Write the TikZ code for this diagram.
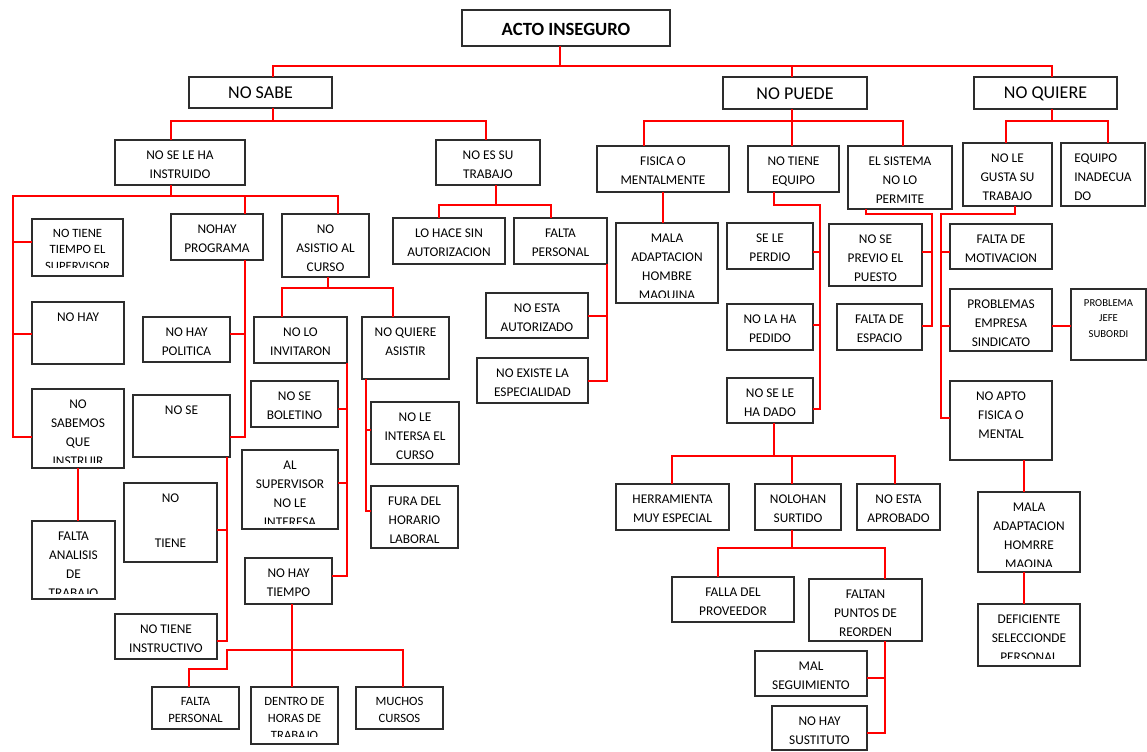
\documentclass[tikz,border=0pt]{standalone}
\usepackage{fontspec}
\setmainfont{Carlito}
\usetikzlibrary{fit}
\definecolor{lnk}{RGB}{255,0,0}
\definecolor{brd}{RGB}{45,45,45}
\tikzset{
  boxst/.style={draw=brd, line width=1pt, inner sep=0pt, outer sep=0pt},
  txt/.style={anchor=north, align=center, inner sep=0pt, font=\fontsize{10}{14.25}\selectfont},
  small/.style={font=\fontsize{9.5}{12.5}\selectfont, yshift=0.5pt},
  mid/.style={font=\fontsize{9.5}{12.5}\selectfont, yshift=0.9pt},
  tiny/.style={font=\fontsize{8}{11.8}\selectfont, yshift=0.7pt},
  link/.style={draw=lnk, line width=1.5pt},
  headt/.style={inner sep=0pt, font=\fontsize{13.5}{16}\selectfont},
}
\newcommand\bx[7][]{%
  \node[boxst, fit={(#3,#4)(#5,#6)}] (#2) {};
  \node[txt,#1] (#2-t) at ({(#3+#5)/2},{#4+11}) {#7};}
\newcommand\cbx[8][]{%
  \node[boxst, fit={(#3,#4)(#5,#6)}] (#2) {};
  \begin{scope}
    \clip (#3,#4) rectangle (#5,{#6-#7});
    \node[txt,#1] (#2-t) at ({(#3+#5)/2},{#4+11}) {#8};
  \end{scope}}
\begin{document}
\begin{tikzpicture}[x=0.75pt,y=-0.75pt]
\useasboundingbox (0,0) rectangle (1147,751);
% top levels
\node[boxst, fit={(462,10)(670,46)}] (acto) {};
\node[inner sep=0pt, font=\fontsize{14}{16}\selectfont\bfseries] (acto-t) at (566,29) {ACTO INSEGURO};
\node[boxst, fit={(189,77)(332,108)}] (nosabe) {};
\node[headt] (nosabe-t) at (260.5,93) {NO SABE};
\node[boxst, fit={(723,77)(867,109)}] (nopuede) {};
\node[headt] (nopuede-t) at (795,93.5) {NO PUEDE};
\node[boxst, fit={(974,77)(1117,109)}] (noquiere) {};
\node[headt] (noquiere-t) at (1045.5,93.5) {NO QUIERE};
% level 2
\bx{noseleha}{115}{140}{245}{185}{NO SE LE HA\\INSTRUIDO}
\bx{noessu}{436}{140}{540}{185}{NO ES SU\\TRABAJO}
\bx{fisica}{597}{146}{729}{192}{FISICA O\\MENTALMENTE}
\bx{notieneeq}{748}{146}{839}{192}{NO TIENE\\EQUIPO}
\bx{elsistema}{848}{146}{952}{209}{EL SISTEMA\\NO LO\\PERMITE}
\bx{nolegusta}{963}{143}{1052}{206}{NO LE\\GUSTA SU\\TRABAJO}
\node[boxst, fit={(1061,143)(1145,206)}] (equipo) {};
\node[txt, anchor=north west, align=left] (equipo-t) at (1074,154) {EQUIPO\\INADECUA\\DO};
% left branch
\cbx[mid]{notienetiempo}{32}{219}{123}{276}{9}{NO TIENE\\TIEMPO EL\\SUPERVISOR}
\bx{nohay}{32}{302}{124}{364}{NO HAY}
\cbx{nosabemos}{32}{389}{124}{468}{6}{NO\\SABEMOS\\QUE\\INSTRUIR}
\cbx{faltaanalisis}{32}{521}{115}{599}{6}{FALTA\\ANALISIS\\DE\\TRABAJO}
\bx{nohayprog}{171}{214}{263}{260}{NOHAY\\PROGRAMA}
\bx{nohaypol}{143}{317}{230}{362}{NO HAY\\POLITICA}
\bx{nose}{133}{395}{230}{457}{NO SE}
\bx{notiene}{124}{483}{217}{562}{NO\\[19.5pt]TIENE}
\bx{notieneinstr}{115}{614}{217}{659}{NO TIENE\\INSTRUCTIVO}
\bx{noasistio}{282}{214}{369}{277}{NO\\ASISTIO AL\\CURSO}
\bx{noloinv}{254}{317}{347}{363}{NO LO\\INVITARON}
\bx{noquiereas}{362}{317}{449}{379}{NO QUIERE\\ASISTIR}
\bx{noseboletino}{251}{381}{338}{427}{NO SE\\BOLETINO}
\bx{nolointersa}{371}{402}{459}{464}{NO LE\\INTERSA EL\\CURSO}
\cbx{alsupervisor}{242}{450}{338}{529}{6}{AL\\SUPERVISOR\\NO LE\\INTERESA}
\bx{fura}{371}{486}{458}{548}{FURA DEL\\HORARIO\\LABORAL}
\bx{nohaytiempo}{245}{558}{332}{604}{NO HAY\\TIEMPO}
\bx[small]{faltapers2}{152}{687}{239}{729}{FALTA\\PERSONAL}
\cbx[small]{dentro}{251}{687}{338}{744}{8}{DENTRO DE\\HORAS DE\\TRABAJO}
\bx[small]{muchos}{356}{687}{443}{729}{MUCHOS\\CURSOS}
\bx{lohace}{393}{218}{505}{264}{LO HACE SIN\\AUTORIZACION}
\bx{faltapers}{514}{218}{607}{264}{FALTA\\PERSONAL}
\bx{noestaaut}{486}{293}{588}{338}{NO ESTA\\AUTORIZADO}
\bx{noexiste}{477}{358}{588}{403}{NO EXISTE LA\\ESPECIALIDAD}
% middle branch
\cbx{mala1}{616}{223}{718}{303}{6}{MALA\\ADAPTACION\\HOMBRE\\MAQUINA}
\bx{seleperdio}{727}{223}{813}{269}{SE LE\\PERDIO}
\bx{nolaha}{727}{304}{813}{350}{NO LA HA\\PEDIDO}
\bx{noseledado}{727}{378}{813}{423}{NO SE LE\\HA DADO}
\bx{noseprevio}{829}{224}{922}{286}{NO SE\\PREVIO EL\\PUESTO}
\bx{faltaesp}{837}{304}{922}{350}{FALTA DE\\ESPACIO}
\bx{herramienta}{616}{484}{729}{530}{HERRAMIENTA\\MUY ESPECIAL}
\bx{nolohan}{755}{484}{841}{530}{NOLOHAN\\SURTIDO}
\bx{noestaaprob}{857}{484}{940}{530}{NO ESTA\\APROBADO}
\bx{falladel}{672}{577}{794}{622}{FALLA DEL\\PROVEEDOR}
\bx{faltan}{809}{579}{922}{641}{FALTAN\\PUNTOS DE\\REORDEN}
\bx{malseg}{755}{651}{867}{696}{MAL\\SEGUIMIENTO}
\bx{nohaysust}{772}{706}{867}{750}{NO HAY\\SUSTITUTO}
% right branch
\bx{faltamot}{950}{224}{1052}{269}{FALTA DE\\MOTIVACION}
\bx{problemas}{950}{289}{1052}{351}{PROBLEMAS\\EMPRESA\\SINDICATO}
\bx[tiny]{problemajefe}{1071}{289}{1146}{360}{PROBLEMA\\JEFE\\SUBORDI}
\bx{noapto}{950}{381}{1052}{460}{NO APTO\\FISICA O\\MENTAL}
\cbx{mala2}{978}{492}{1080}{572}{6}{MALA\\ADAPTACION\\HOMRRE\\MAQINA}
\cbx{deficiente}{978}{604}{1080}{666}{8}{DEFICIENTE\\SELECCIONDE\\PERSONAL}
% ---------------- connectors
\draw[link] (acto.south -| 560,0) -- (560,66);
\draw[link] (nosabe.north -| 273,0) -- (273,66) -- (1052,66) -- (noquiere.north -| 1052,0);
\draw[link] (792,66) -- (nopuede.north -| 792,0);
% NO SABE
\draw[link] (nosabe.south -| 273,0) -- (273,121);
\draw[link] (noseleha.north -| 171,0) -- (171,121) -- (486,121) -- (noessu.north -| 486,0);
% NO PUEDE
\draw[link] (nopuede.south -| 792,0) -- (notieneeq.north -| 792,0);
\draw[link] (fisica.north -| 644,0) -- (644,121) -- (903,121) -- (elsistema.north -| 903,0);
% NO QUIERE
\draw[link] (noquiere.south -| 1052,0) -- (1052,121);
\draw[link] (nolegusta.north -| 1006,0) -- (1006,121) -- (1108,121) -- (equipo.north -| 1108,0);
% NO SE LE HA INSTRUIDO
\draw[link] (noseleha.south -| 171,0) -- (171,196);
\draw[link] (nosabemos.west |- 0,437) -- (13,437) -- (13,196) -- (338,196) -- (noasistio.north -| 338,0);
\draw[link] (245,196) -- (nohayprog.north -| 245,0);
\draw[link] (13,242) -- (notienetiempo.west |- 0,242);
\draw[link] (13,334) -- (nohay.west |- 0,334);
% NOHAY PROGRAMA
\draw[link] (nohayprog.south -| 245,0) -- (245,437) -- (nose.east |- 0,437);
\draw[link] (245,334) -- (nohaypol.east |- 0,334);
% NO SABEMOS
\draw[link] (nosabemos.south) -- (faltaanalisis.north -| nosabemos.south);
% NO SE
\draw[link] (nose.south -| 227,0) -- (227,641) -- (notieneinstr.east |- 0,641);
\draw[link] (227,530) -- (notiene.east |- 0,530);
% NO ASISTIO
\draw[link] (noasistio.south -| 328,0) -- (328,288);
\draw[link] (noloinv.north -| 282,0) -- (282,288) -- (393,288) -- (noquiereas.north -| 393,0);
% NO LO INVITARON
\draw[link] (noloinv.south east) -- (347,576) -- (nohaytiempo.east |- 0,576);
\draw[link] (347,409) -- (noseboletino.east |- 0,409);
\draw[link] (347,483) -- (alsupervisor.east |- 0,483);
% NO QUIERE ASISTIR
\draw[link] (noquiereas.south -| 366,0) -- (366,511) -- (fura.west |- 0,511);
\draw[link] (366,430) -- (nolointersa.west |- 0,430);
% NO HAY TIEMPO
\draw[link] (nohaytiempo.south -| 292,0) -- (dentro.north -| 292,0);
\draw[link] (faltapers2.north -| 189,0) -- (189,669) -- (227,669) -- (227,650) -- (403,650) -- (muchos.north -| 403,0);
% NO ES SU TRABAJO
\draw[link] (noessu.south -| 496,0) -- (496,205);
\draw[link] (lohace.north -| 439,0) -- (439,205) -- (551,205) -- (faltapers.north -| 551,0);
% FALTA PERSONAL
\draw[link] (faltapers.south east) -- (607,381) -- (noexiste.east |- 0,381);
\draw[link] (607,316) -- (noestaaut.east |- 0,316);
% FISICA
\draw[link] (fisica.south -| 663,0) -- (mala1.north -| 663,0);
% NO TIENE EQUIPO
\draw[link] (notieneeq.south -| 774,0) -- (774,205) -- (820,205) -- (820,409) -- (noseledado.east |- 0,409);
\draw[link] (820,252) -- (seleperdio.east |- 0,252);
\draw[link] (820,325) -- (nolaha.east |- 0,325);
% EL SISTEMA
\draw[link] (elsistema.south -| 866,0) -- (866,214) -- (932,214) -- (932,326) -- (faltaesp.east |- 0,326);
\draw[link] (932,252) -- (noseprevio.east |- 0,252);
% NO LE GUSTA
\draw[link] (nolegusta.south -| 1015,0) -- (1015,214) -- (941,214) -- (941,418) -- (noapto.west |- 0,418);
\draw[link] (941,252) -- (faltamot.west |- 0,252);
\draw[link] (941,326) -- (problemas.west |- 0,326);
\draw[link] (problemas.east |- 0,326) -- (problemajefe.west |- 0,326);
% NO APTO
\draw[link] (noapto.south -| 1024,0) -- (mala2.north -| 1024,0);
\draw[link] (mala2.south -| 1024,0) -- (deficiente.north -| 1024,0);
% NO SE LE HA DADO
\draw[link] (noseledado.south -| 774,0) -- (774,456);
\draw[link] (herramienta.north -| 672,0) -- (672,456) -- (895,456) -- (noestaaprob.north -| 895,0);
\draw[link] (792,456) -- (nolohan.north -| 792,0);
% NOLOHAN
\draw[link] (nolohan.south -| 792,0) -- (792,548);
\draw[link] (falladel.north -| 718,0) -- (718,548) -- (885,548) -- (faltan.north -| 885,0);
% FALTAN
\draw[link] (faltan.south -| 885,0) -- (885,733) -- (nohaysust.east |- 0,733);
\draw[link] (885,678) -- (malseg.east |- 0,678);
\end{tikzpicture}
\end{document}
